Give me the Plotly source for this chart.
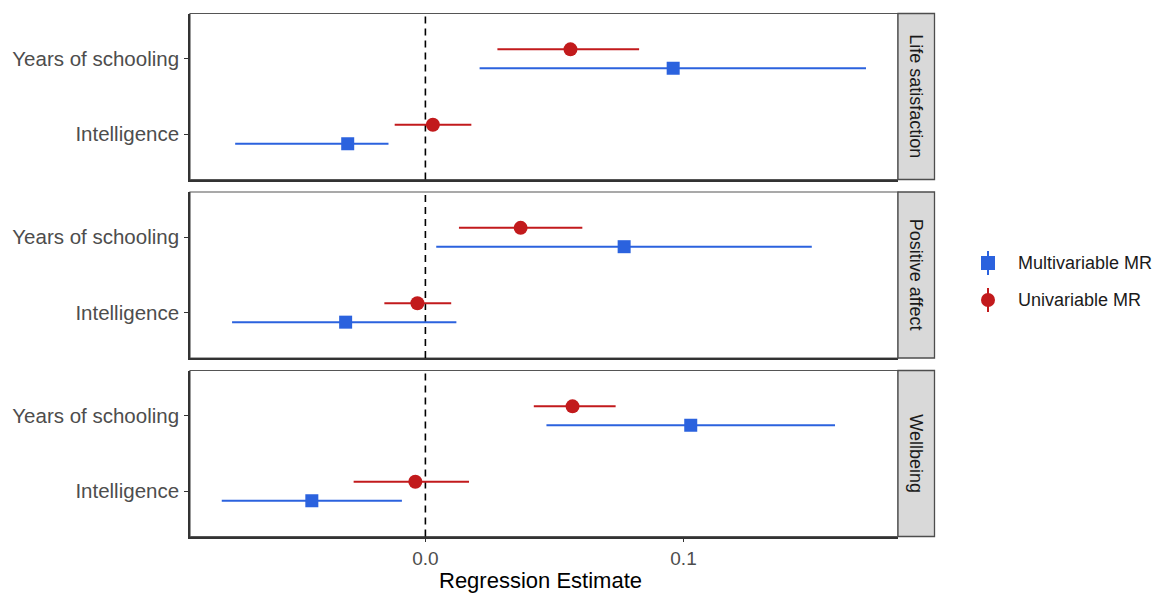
import plotly.graph_objects as go

# ---- data -------------------------------------------------------------
outcomes = ["Life satisfaction", "Positive affect", "Wellbeing"]
exposures = ["Intelligence", "Years of schooling"]  # bottom -> top
models = ["Multivariable MR", "Univariable MR"]

# estimates / lower / upper per outcome, ordered as `exposures`
multi_est = [[-0.0301, 0.0960], [-0.0309, 0.0770], [-0.0440, 0.1028]]
multi_lo = [[-0.0737, 0.0210], [-0.0749, 0.0042], [-0.0789, 0.0469]]
multi_hi = [[-0.0143, 0.1707], [0.0120, 0.1497], [-0.0091, 0.1587]]

uni_est = [[0.0029, 0.0562], [-0.0031, 0.0369], [-0.0039, 0.0570]]
uni_lo = [[-0.0119, 0.0279], [-0.0159, 0.0130], [-0.0278, 0.0420]]
uni_hi = [[0.0178, 0.0828], [0.0100, 0.0608], [0.0169, 0.0737]]

x_ticks = [0.0, 0.1]
x_tick_text = ["0.0", "0.1"]

# ---- style ------------------------------------------------------------
BLUE = "#2B62DE"
RED = "#C21A1C"
W, H = 1161, 594
L, R, T, B = 190, 226, 13, 57
PW, PH = W - L - R, H - T - B
FONT = "Liberation Sans, Arial, sans-serif"
XR = [-0.0912, 0.1831]
DODGE = 0.125


def px_x(px):
    return (px - L) / PW


def px_y(py):
    return (H - B - py) / PH


panel_px = [(13.5, 179.5), (192.0, 358.0), (370.5, 536.5)]
x_dom = [0, px_x(898)]

fig = go.Figure()
shapes = []
annotations = []

for i, outc in enumerate(outcomes):
    n = i + 1
    xa = "x" if n == 1 else f"x{n}"
    ya = "y" if n == 1 else f"y{n}"
    top, bot = panel_px[i]
    y_dom = [px_y(bot), px_y(top)]

    series = [
        (models[0], multi_est[i], multi_lo[i], multi_hi[i], BLUE, "square", 13, -DODGE),
        (models[1], uni_est[i], uni_lo[i], uni_hi[i], RED, "circle", 14, DODGE),
    ]
    for name, est, lo, hi, col, sym, size, off in series:
        fig.add_trace(go.Scatter(
            x=est,
            y=[k + 1 + off for k in range(len(exposures))],
            mode="markers",
            name=name,
            showlegend=False,
            marker=dict(symbol=sym, size=size, color=col, line=dict(width=0)),
            error_x=dict(
                type="data", symmetric=False,
                array=[h - e for h, e in zip(hi, est)],
                arrayminus=[e - l for e, l in zip(est, lo)],
                color=col, thickness=2, width=0,
            ),
            xaxis=xa, yaxis=ya,
        ))

    last = n == len(outcomes)
    fig.layout[f"xaxis{'' if n == 1 else n}"] = dict(
        domain=x_dom, range=XR, anchor=ya,
        tickvals=x_ticks, ticktext=x_tick_text,
        showticklabels=last, ticks="outside" if last else "",
        ticklen=4, tickwidth=1.2, tickcolor="#333333",
        tickfont=dict(family=FONT, size=19, color="#4D4D4D"),
        showline=True, linecolor="#333333", linewidth=1.6,
        showgrid=False, zeroline=False,
        matches=None if n == 1 else "x",
    )
    fig.layout[f"yaxis{'' if n == 1 else n}"] = dict(
        domain=y_dom, range=[0.4, 2.6], anchor=xa,
        tickvals=[1, 2], ticktext=exposures,
        ticks="outside", ticklen=4, tickwidth=1.2, tickcolor="#333333",
        tickfont=dict(family=FONT, size=20.5, color="#4D4D4D"),
        ticklabelstandoff=1,
        showline=True, linecolor="#333333", linewidth=1.6,
        showgrid=False, zeroline=False,
    )

    # panel outline (top/right)
    shapes.append(dict(type="rect", xref="paper", yref="paper",
                       x0=0, x1=x_dom[1], y0=y_dom[0], y1=y_dom[1],
                       line=dict(color="#555555", width=1.2), layer="below"))
    # reference line at zero
    shapes.append(dict(type="line", xref=xa, yref=f"{ya} domain",
                       x0=0, x1=0, y0=0, y1=1,
                       line=dict(color="black", width=1.6, dash="7px,5px"),
                       layer="below"))
    # facet strip
    shapes.append(dict(type="rect", xref="paper", yref="paper",
                       x0=x_dom[1], x1=px_x(934.5), y0=y_dom[0], y1=y_dom[1],
                       fillcolor="#D9D9D9", line=dict(color="#4D4D4D", width=1.3)))
    annotations.append(dict(
        text=outc, xref="paper", yref="paper",
        x=(x_dom[1] + px_x(934.5)) / 2, y=(y_dom[0] + y_dom[1]) / 2,
        xanchor="center", yanchor="middle",
        textangle=90, showarrow=False,
        font=dict(family=FONT, size=18, color="#1A1A1A"),
    ))

# axis title
annotations.append(dict(
    text="Regression Estimate", xref="paper", yref="paper",
    x=px_x(540), y=px_y(580), showarrow=False,
    xanchor="center", yanchor="middle",
    font=dict(family=FONT, size=22, color="black"),
))

# legend keys: point with a vertical range line
legend_rows = [(models[0], BLUE, "square", 263), (models[1], RED, "circle", 300)]
kx = 988
for name, col, sym, ky in legend_rows:
    shapes.append(dict(type="line", xref="paper", yref="paper",
                       x0=px_x(kx), x1=px_x(kx), y0=px_y(ky - 12), y1=px_y(ky + 12),
                       line=dict(color=col, width=2)))
    r = 7
    shapes.append(dict(type="rect" if sym == "square" else "circle",
                       xref="paper", yref="paper",
                       x0=px_x(kx - r), x1=px_x(kx + r),
                       y0=px_y(ky + r), y1=px_y(ky - r),
                       fillcolor=col, line=dict(width=0)))
    annotations.append(dict(
        text=name, xref="paper", yref="paper",
        x=px_x(1016), y=px_y(ky), xanchor="left", yanchor="middle",
        showarrow=False, font=dict(family=FONT, size=18, color="#1A1A1A"),
    ))

fig.update_layout(
    width=W, height=H,
    margin=dict(l=L, r=R, t=T, b=B, autoexpand=False),
    paper_bgcolor="white", plot_bgcolor="white",
    showlegend=False,
    shapes=shapes, annotations=annotations,
)

fig.write_html("out.html")
